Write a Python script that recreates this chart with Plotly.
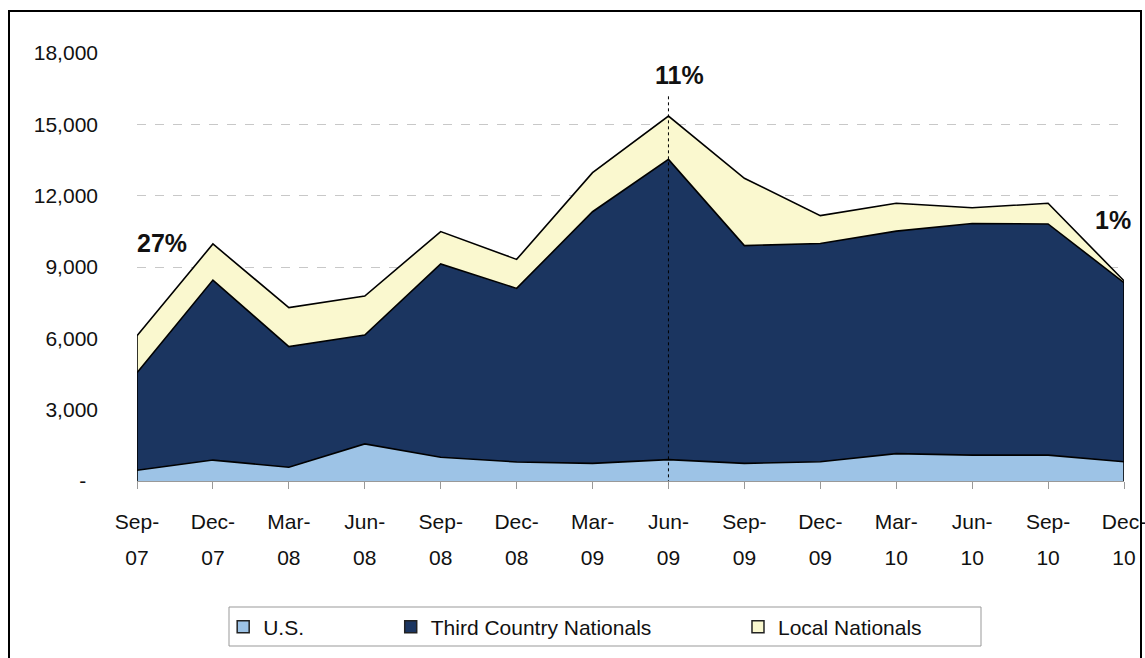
import plotly.graph_objects as go

categories = ["Sep-07", "Dec-07", "Mar-08", "Jun-08", "Sep-08", "Dec-08", "Mar-09",
              "Jun-09", "Sep-09", "Dec-09", "Mar-10", "Jun-10", "Sep-10", "Dec-10"]
month_labels = ["Sep-", "Dec-", "Mar-", "Jun-", "Sep-", "Dec-", "Mar-",
                "Jun-", "Sep-", "Dec-", "Mar-", "Jun-", "Sep-", "Dec-"]
year_labels = ["07", "07", "08", "08", "08", "08", "09", "09", "09", "09", "10", "10", "10", "10"]
us = [450, 880, 580, 1560, 1000, 800, 740, 900, 740, 810, 1150, 1090, 1090, 810]
tcn = [4100, 7570, 5070, 4580, 8125, 7300, 10585, 12625, 9160, 9180, 9360, 9740, 9720, 7530]
local = [1560, 1520, 1640, 1640, 1365, 1220, 1645, 1825, 2830, 1170, 1170, 660, 870, 80]
y_ticks = [0, 3000, 6000, 9000, 12000, 15000, 18000]
y_tick_labels = ["-" + "\u00a0" * 2, "3,000", "6,000", "9,000", "12,000", "15,000", "18,000"]
series_names = ["U.S.", "Third Country Nationals", "Local Nationals"]
colors = ["#9DC3E6", "#1B3560", "#FAF8CF"]

FONT = "Liberation Sans, Arial, sans-serif"
TXT = "#111111"

fig = go.Figure()
for name, vals, col in zip(series_names, [us, tcn, local], colors):
    fig.add_trace(go.Scatter(
        x=categories, y=vals, name=name, stackgroup="one", mode="lines",
        line=dict(color="black", width=1.6), fillcolor=col, showlegend=False,
    ))

pad = "\u00a0" * 14
for i, (name, col) in enumerate(zip(series_names, colors)):
    fig.add_trace(go.Scatter(
        x=[None], y=[None], mode="markers", name=name + (pad if i < 2 else ""),
        xaxis="x2", yaxis="y",
        marker=dict(symbol="square", size=12, color=col, line=dict(color="#222", width=1.5)),
    ))

totals = [a + b + c for a, b, c in zip(us, tcn, local)]
shapes = [
    dict(type="line", xref="x", yref="y", x0=0, x1=0, y0=0, y1=totals[0],
         line=dict(color="black", width=1.6)),
    dict(type="line", xref="x", yref="y", x0=len(categories) - 1, x1=len(categories) - 1,
         y0=0, y1=totals[-1], line=dict(color="black", width=1.6)),
    dict(type="line", xref="x", yref="y", x0=categories.index("Jun-09"), x1=categories.index("Jun-09"),
         y0=-350, y1=16300, line=dict(color="black", width=1, dash="dot"), layer="above"),
    # legend box
    dict(type="rect", xref="paper", yref="paper", x0=(229 - 137) / 987, x1=(981 - 137) / 987,
         y0=(481 - 646) / 428, y1=(481 - 607) / 428, line=dict(color="#999999", width=1)),
    # outer border
    dict(type="rect", xref="paper", yref="paper", x0=(9 - 137) / 987, x1=(1141 - 137) / 987,
         y0=-0.6, y1=(481 - 11) / 428, line=dict(color="black", width=2)),
]

annotations = [
    dict(x=0.33, y=10010, text="<b>27%</b>", showarrow=False, xref="x", yref="y",
         font=dict(size=25, family=FONT, color=TXT)),
    dict(x=7.14, y=17070, text="<b>11%</b>", showarrow=False, xref="x", yref="y",
         font=dict(size=25, family=FONT, color=TXT)),
    dict(x=12.86, y=10975, text="<b>1%</b>", showarrow=False, xref="x", yref="y",
         font=dict(size=25, family=FONT, color=TXT)),
]

fig.update_layout(
    width=1145, height=658,
    margin=dict(l=137, r=21, t=53, b=177, autoexpand=False),
    paper_bgcolor="white", plot_bgcolor="white",
    font=dict(family=FONT, size=21, color=TXT),
    shapes=shapes, annotations=annotations,
    showlegend=True,
    legend=dict(orientation="h", traceorder="normal",
                x=(237 - 137) / 987 - 0.014, xanchor="left",
                y=(481 - 627) / 428, yanchor="middle",
                font=dict(size=21, family=FONT, color=TXT),
                bgcolor="rgba(0,0,0,0)", borderwidth=0, itemclick=False),
    xaxis=dict(
        type="category", range=[0, len(categories) - 1],
        tickmode="array", tickvals=categories, ticktext=month_labels,
        ticks="outside", ticklen=7, tickcolor="#999999", tickwidth=1,
        showline=True, linecolor="#999999", linewidth=1,
        showgrid=False, zeroline=False, ticklabelstandoff=15, automargin=False,
        tickfont=dict(size=21, family=FONT, color=TXT),
    ),
    xaxis2=dict(
        overlaying="x", anchor="y", side="bottom",
        range=[0, len(categories) - 1],
        tickmode="array", tickvals=list(range(len(categories))), ticktext=year_labels,
        ticks="", showline=False, showgrid=False, zeroline=False,
        ticklabelstandoff=62, automargin=False,
        tickfont=dict(size=21, family=FONT, color=TXT),
    ),
    yaxis=dict(
        range=[0, 18000], tickmode="array", tickvals=y_ticks, ticktext=y_tick_labels,
        showgrid=True, gridcolor="#C8C8C8", griddash="dash", gridwidth=1,
        zeroline=False, showline=False, ticks="", ticklabelstandoff=38, automargin=False,
        tickfont=dict(size=21, family=FONT, color=TXT),
    ),
)

fig.write_html(
    "out.html",
    config={"displayModeBar": False},
    post_script="document.body.style.margin='0';document.body.style.overflow='hidden';",
)
